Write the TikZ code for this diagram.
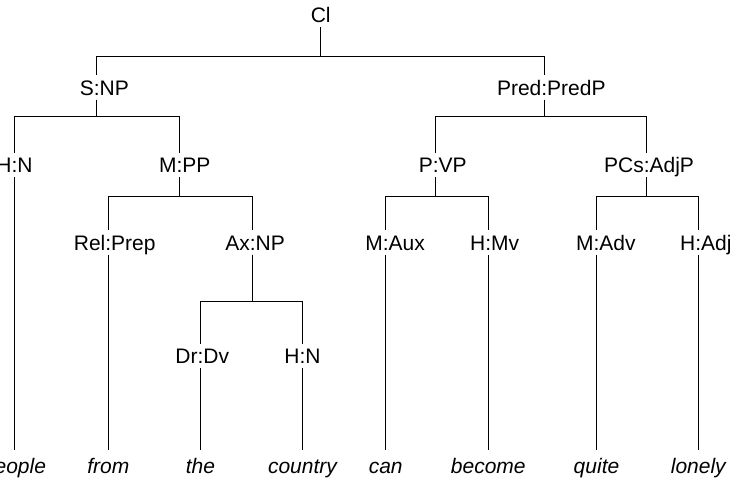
\documentclass[tikz,border=0pt]{standalone}
\usepackage{fontspec}
\setmainfont{Liberation Sans}
\usetikzlibrary{positioning}
\newcommand{\funcat}[2]{\makebox[0pt][r]{#1}:\makebox[0pt][l]{#2}}

\begin{document}
\begin{tikzpicture}[
    x=1pt, y=-1pt,
    lbl/.style={anchor=base, font=\fontsize{21}{25}\selectfont, text height=15pt, text depth=0pt, inner xsep=0pt, inner ysep=4.5pt},
    word/.style={lbl, font=\fontsize{21}{25}\selectfont\itshape, inner ysep=8.3pt},
    branch/.style={line width=1pt}
]
    \useasboundingbox (0,0) rectangle (735,479);
    \clip (0,0) rectangle (735,479);

    % function:category labels
    \node[lbl] (cl) at (320.7,22.3) {Cl};
    \node[lbl] (snp) at (96.7,95) {\funcat{S}{NP}};
    \node[lbl] (pred) at (544.3,95) {\funcat{Pred}{PredP}};
    \node[lbl] (hn) at (14.5,172.7) {\funcat{H}{N}};
    \node[lbl] (mpp) at (179.5,172.7) {\funcat{M}{PP}};
    \node[lbl] (pvp) at (435.7,172.7) {\funcat{P}{VP}};
    \node[lbl] (pcs) at (646.7,172.7) {\funcat{PCs}{AdjP}};
    \node[lbl] (rel) at (108.3,250) {\funcat{Rel}{Prep}};
    \node[lbl] (axnp) at (252.7,250) {\funcat{Ax}{NP}};
    \node[lbl] (maux) at (385.7,250) {\funcat{M}{Aux}};
    \node[lbl] (hmv) at (488.3,250) {\funcat{H}{Mv}};
    \node[lbl] (madv) at (596.5,250) {\funcat{M}{Adv}};
    \node[lbl] (hadj) at (698.3,250) {\funcat{H}{Adj}};
    \node[lbl] (drdv) at (200.5,363.3) {\funcat{Dr}{Dv}};
    \node[lbl] (hn2) at (302.5,363.3) {\funcat{H}{N}};

    % words
    \node[word] (people) at (14.5,473.3) {people};
    \node[word] (from) at (108.3,473.3) {from};
    \node[word] (the) at (200.5,473.3) {the};
    \node[word] (country) at (302.5,473.3) {country};
    \node[word] (can) at (385.7,473.3) {can};
    \node[word] (become) at (488.3,473.3) {become};
    \node[word] (quite) at (596.5,473.3) {quite};
    \node[word] (lonely) at (698.3,473.3) {lonely};

    % branches
    \draw[branch] (cl.south) -- ++(0,29.7) -| (snp.north);
    \draw[branch] (cl.south) -- ++(0,29.7) -| (pred.north);
    \draw[branch] (snp.south) -- ++(0,16.5) -| (hn.north);
    \draw[branch] (snp.south) -- ++(0,16.5) -| (mpp.north);
    \draw[branch] (pred.south) -- ++(0,16.5) -| (pvp.north);
    \draw[branch] (pred.south) -- ++(0,16.5) -| (pcs.north);
    \draw[branch] (mpp.south) -- ++(0,18.8) -| (rel.north);
    \draw[branch] (mpp.south) -- ++(0,18.8) -| (axnp.north);
    \draw[branch] (pvp.south) -- ++(0,18.8) -| (maux.north);
    \draw[branch] (pvp.south) -- ++(0,18.8) -| (hmv.north);
    \draw[branch] (pcs.south) -- ++(0,18.8) -| (madv.north);
    \draw[branch] (pcs.south) -- ++(0,18.8) -| (hadj.north);
    \draw[branch] (axnp.south) -- ++(0,46.5) -| (drdv.north);
    \draw[branch] (axnp.south) -- ++(0,46.5) -| (hn2.north);

    % leaves
    \draw[branch] (hn.south) -- (people.north);
    \draw[branch] (rel.south) -- (from.north);
    \draw[branch] (drdv.south) -- (the.north);
    \draw[branch] (hn2.south) -- (country.north);
    \draw[branch] (maux.south) -- (can.north);
    \draw[branch] (hmv.south) -- (become.north);
    \draw[branch] (madv.south) -- (quite.north);
    \draw[branch] (hadj.south) -- (lonely.north);
\end{tikzpicture}
\end{document}
